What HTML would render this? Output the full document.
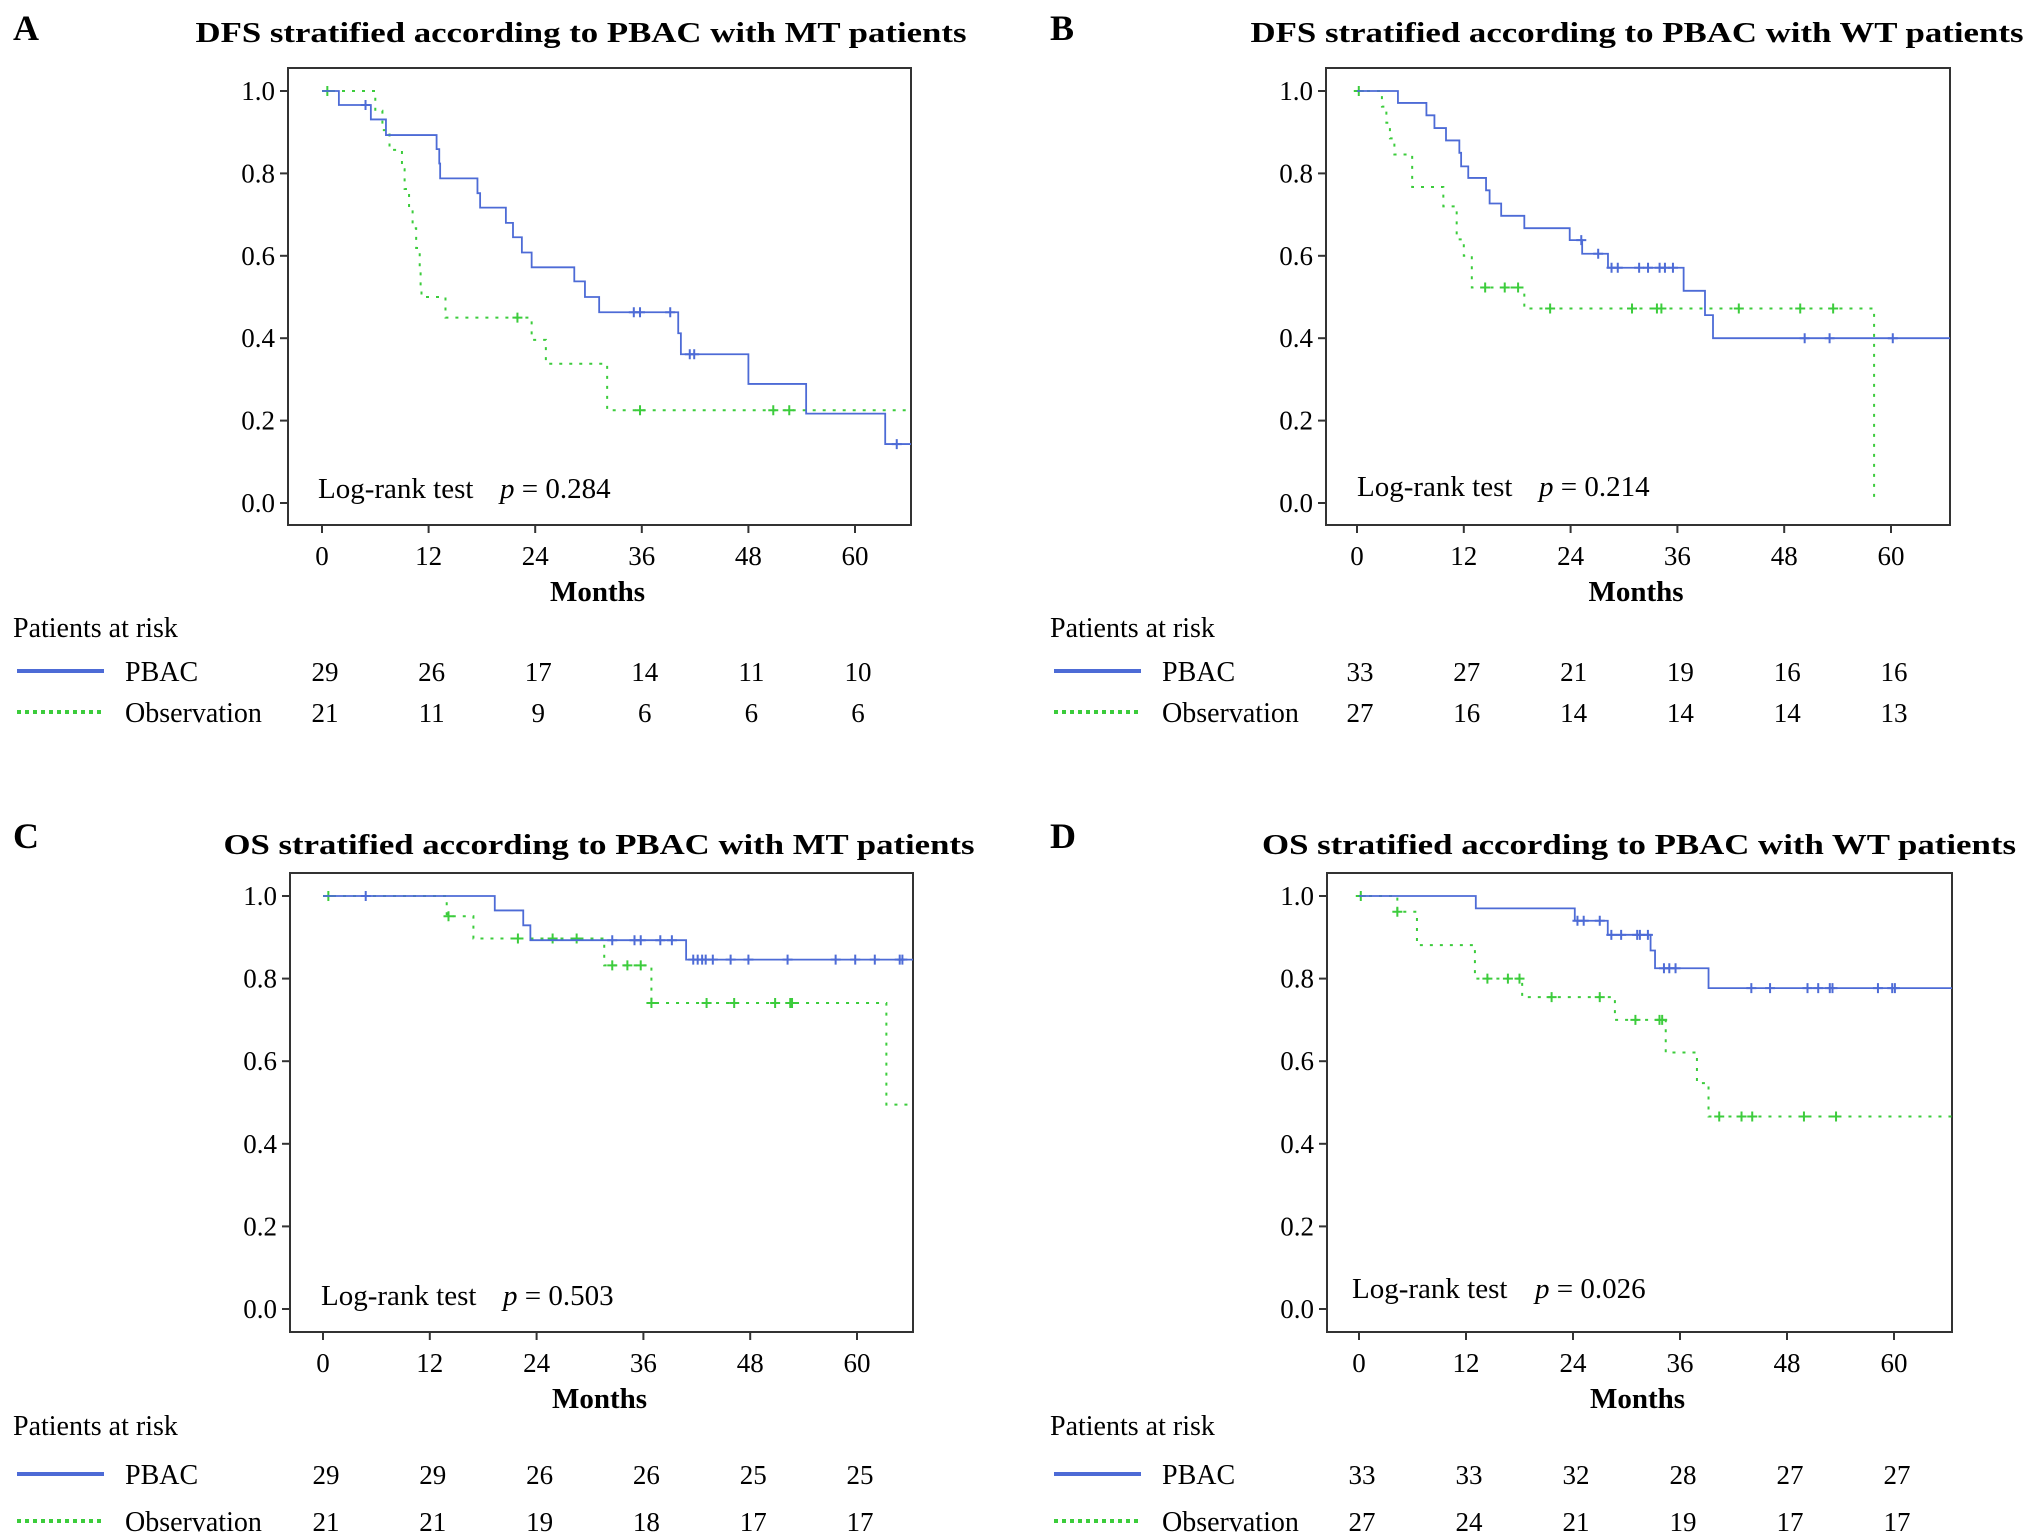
<!DOCTYPE html>
<html><head><meta charset="utf-8"><style>
html,body{margin:0;padding:0;background:#fff;}
svg{display:block;font-family:"Liberation Serif",serif;}
</style></head><body>
<svg id="fig" width="2031" height="1540" viewBox="0 0 2031 1540" xmlns="http://www.w3.org/2000/svg"></svg>
<script>
// ---------- DATA ----------
const xTicks = [0, 12, 24, 36, 48, 60];
const yTicks = [0.0, 0.2, 0.4, 0.6, 0.8, 1.0];
const seriesNames = ["PBAC", "Observation"];

// Panel A
const aTitle = "DFS stratified according to PBAC with MT patients";
const aP = "0.284";
const aPbacT = [1.9,5.5,7.2,12.9,13.2,13.3,17.5,17.8,20.7,21.5,22.5,23.6,28.4,29.6,31.2,40.1,40.4,48.0,54.5,63.4];
const aPbacS = [0.966,0.931,0.893,0.859,0.824,0.788,0.752,0.717,0.68,0.645,0.608,0.572,0.538,0.5,0.463,0.412,0.361,0.289,0.217,0.143];
const aPbacCT = [4.9,35.1,35.8,39.2,41.4,41.9,64.7];
const aObsT = [6.0,6.8,7.6,9.0,9.3,9.8,10.2,10.6,11.0,11.1,11.2,13.9,23.6,25.2,32.1];
const aObsS = [0.952,0.905,0.857,0.810,0.762,0.714,0.667,0.619,0.571,0.524,0.5,0.45,0.396,0.338,0.225];
const aObsCT = [0.6,22.0,35.8,50.8,52.6];
const aRiskPbac = [29,26,17,14,11,10];
const aRiskObs = [21,11,9,6,6,6];

// Panel B
const bTitle = "DFS stratified according to PBAC with WT patients";
const bP = "0.214";
const bPbacT = [4.6,7.8,8.7,10.0,11.5,11.7,12.5,14.5,14.9,16.2,18.8,23.9,25.3,28.2,36.7,39.1,40.0];
const bPbacS = [0.971,0.941,0.910,0.880,0.85,0.817,0.789,0.759,0.727,0.697,0.667,0.638,0.605,0.571,0.515,0.456,0.40];
const bPbacCT = [25.2,27.1,28.6,29.3,31.7,32.7,34.0,34.6,35.5,50.3,53.1,60.2];
const bObsT = [2.8,3.3,3.7,4.2,6.2,9.7,11.2,12.0,12.9,18.8,58.1];
const bObsS = [0.962,0.923,0.885,0.846,0.767,0.72,0.64,0.60,0.523,0.472,0.0];
const bObsCT = [0.2,14.4,16.6,18.1,21.7,30.9,33.7,34.2,42.9,49.8,53.5];
const bRiskPbac = [33,27,21,19,16,16];
const bRiskObs = [27,16,14,14,14,13];

// Panel C
const cTitle = "OS stratified according to PBAC with MT patients";
const cP = "0.503";
const cPbacT = [19.3,22.5,23.3,40.8];
const cPbacS = [0.965,0.929,0.893,0.846];
const cPbacCT = [4.8,32.5,35.0,35.7,37.9,39.2,41.6,42.1,42.6,43.0,43.8,45.8,47.8,52.2,57.6,59.8,62.0,64.8,65.1];
const cObsT = [13.9,16.9,31.6,36.9,63.3];
const cObsS = [0.951,0.897,0.832,0.741,0.495];
const cObsCT = [0.6,14.1,21.9,25.8,28.5,32.5,34.2,35.7,36.9,43.1,46.2,50.8,52.5,52.7];
const cRiskPbac = [29,29,26,26,25,25];
const cRiskObs = [21,21,19,18,17,17];

// Panel D
const dTitle = "OS stratified according to PBAC with WT patients";
const dP = "0.026";
const dPbacT = [13.1,24.2,27.9,32.7,33.2,39.2];
const dPbacS = [0.970,0.940,0.906,0.868,0.825,0.777];
const dPbacCT = [24.5,25.2,27.0,28.3,29.4,31.2,31.5,32.4,34.2,34.8,35.5,44.0,46.1,50.3,51.5,52.8,53.1,58.2,59.8,60.1];
const dObsT = [4.3,6.5,13.0,18.3,28.7,34.4,37.9,39.2];
const dObsS = [0.962,0.881,0.80,0.755,0.70,0.621,0.547,0.466];
const dObsCT = [0.2,4.3,14.4,16.7,18.0,21.6,27.0,31.0,33.7,34.0,40.4,42.9,44.1,49.9,53.5];
const dRiskPbac = [33,33,32,28,27,27];
const dRiskObs = [27,24,21,19,17,17];

// ---------- DRAWING ----------
const NS = "http://www.w3.org/2000/svg";
const svg = document.getElementById("fig");
const BLUE = "#4d6bd6", GREEN = "#3ccc3c";
function mk(tag, attrs, parent) {
  const e = document.createElementNS(NS, tag);
  for (const k in attrs) e.setAttribute(k, attrs[k]);
  (parent || svg).appendChild(e);
  return e;
}
function txt(s, attrs, parent) { const e = mk("text", attrs, parent); e.textContent = s; return e; }

function survAt(t, T, S) { let s = 1; for (let i = 0; i < T.length; i++) if (T[i] <= t) s = S[i]; return s; }

function panel(cfg) {
  const g = mk("g", {});
  
  
  const xs = m => cfg.x0 + (m / 60) * (cfg.x60 - cfg.x0);
  const ys = v => cfg.y0 + v * (cfg.y1 - cfg.y0);
  const tEnd = (cfg.bx2 - cfg.x0) / (cfg.x60 - cfg.x0) * 60;

  const L = txt(cfg.letter, {x: cfg.lx, y: cfg.ly, "font-size": 36, "font-weight": "bold"}, g);
  
  
  const T = txt(cfg.title, {x: cfg.tx, y: cfg.ty, "font-size": 29, "font-weight": "bold", "text-anchor": "middle", textLength: cfg.tw, lengthAdjust: "spacingAndGlyphs"}, g);
  
  

  const box = mk("rect", {x: cfg.bx1, y: cfg.by1, width: cfg.bx2 - cfg.bx1, height: cfg.by2 - cfg.by1, fill: "none", stroke: "#333", "stroke-width": 2}, g);
  
  

  yTicks.forEach(v => {
    const y = ys(v);
    const tk = mk("line", {x1: cfg.bx1 - 8, x2: cfg.bx1, y1: y, y2: y, stroke: "#333", "stroke-width": 2}, g);
    
    
    const lb = txt(v.toFixed(1), {x: cfg.bx1 - 13, y: y + 9, "font-size": 27, "text-anchor": "end"}, g);
    
    
  });
  xTicks.forEach((m, i) => {
    const x = xs(m);
    const tk = mk("line", {x1: x, x2: x, y1: cfg.by2, y2: cfg.by2 + 8, stroke: "#333", "stroke-width": 2}, g);
    
    
    const lb = txt(String(m), {x: x, y: cfg.by2 + 40, "font-size": 27, "text-anchor": "middle"}, g);
    
    
    const r1 = txt(String(cfg.riskP[i]), {x: x + 3, y: cfg.r1y, "font-size": 27, "text-anchor": "middle"}, g);
    
    
    const r2 = txt(String(cfg.riskO[i]), {x: x + 3, y: cfg.r2y, "font-size": 27, "text-anchor": "middle"}, g);
    
    
  });
  const xt = txt("Months", {x: (cfg.bx1 + cfg.bx2) / 2 - 2, y: cfg.by2 + 76, "font-size": 29, "font-weight": "bold", "text-anchor": "middle"}, g);
  
  

  function curve(Tt, Ss, CT, color, dashed, name) {
    let d = "M" + xs(0) + "," + ys(1);
    let s = 1;
    for (let i = 0; i < Tt.length; i++) {
      d += " H" + xs(Tt[i]) + " V" + ys(Ss[i]);
      s = Ss[i];
    }
    const last = Tt[Tt.length - 1];
    if (s > 0) d += " H" + xs(Math.max(tEnd, last));
    const p = mk("path", {d: d, fill: "none", stroke: color, "stroke-width": dashed ? 2 : 1.8, "stroke-dasharray": dashed ? "3,7" : "none"}, g);
    
    
    CT.forEach(t => {
      const cx = xs(t), cy = ys(survAt(t, Tt, Ss));
      const c = mk("path", {d: "M" + (cx - 5) + "," + cy + " H" + (cx + 5) + " M" + cx + "," + (cy - 5) + " V" + (cy + 5), stroke: color, "stroke-width": 2}, g);
      
      
    });
  }
  curve(cfg.oT, cfg.oS, cfg.oCT, GREEN, true, "observation");
  curve(cfg.pT, cfg.pS, cfg.pCT, BLUE, false, "pbac");

  const lr = txt("Log-rank test", {x: cfg.lrx, y: cfg.lry, "font-size": 29}, g);
  
  
  const pv = mk("text", {x: cfg.px, y: cfg.lry, "font-size": 29}, g);
  
  
  const it = mk("tspan", {"font-style": "italic"}, pv); it.textContent = "p";
  const rest = mk("tspan", {}, pv); rest.textContent = " = " + cfg.p;

  const par = txt("Patients at risk", {x: cfg.lx, y: cfg.pary, "font-size": 28}, g);
  
  
  const l1 = mk("line", {x1: cfg.lx + 4, x2: cfg.lx + 91, y1: cfg.r1y - 10, y2: cfg.r1y - 10, stroke: BLUE, "stroke-width": 4}, g);
  
  
  const l2 = mk("line", {x1: cfg.lx + 4, x2: cfg.lx + 91, y1: cfg.r2y - 10, y2: cfg.r2y - 10, stroke: GREEN, "stroke-width": 4, "stroke-dasharray": "4,4"}, g);
  
  
  const n1 = txt(seriesNames[0], {x: cfg.lx + 112, y: cfg.r1y, "font-size": 28}, g);
  
  
  const n2 = txt(seriesNames[1], {x: cfg.lx + 112, y: cfg.r2y, "font-size": 28}, g);
  
  
}

panel({id: "a", letter: "A", lx: 13, ly: 40, title: aTitle, tx: 581, ty: 42, tw: 771,
  bx1: 288, bx2: 911, by1: 68, by2: 525, x0: 322, x60: 855, y1: 91, y0: 503,
  pT: aPbacT, pS: aPbacS, pCT: aPbacCT, oT: aObsT, oS: aObsS, oCT: aObsCT,
  riskP: aRiskPbac, riskO: aRiskObs, r1y: 681, r2y: 722, pary: 637,
  lrx: 318, lry: 498, px: 500, p: aP});
panel({id: "b", letter: "B", lx: 1050, ly: 40, title: bTitle, tx: 1637, ty: 42, tw: 773,
  bx1: 1326, bx2: 1950, by1: 68, by2: 525, x0: 1357, x60: 1891, y1: 91, y0: 503,
  pT: bPbacT, pS: bPbacS, pCT: bPbacCT, oT: bObsT, oS: bObsS, oCT: bObsCT,
  riskP: bRiskPbac, riskO: bRiskObs, r1y: 681, r2y: 722, pary: 637,
  lrx: 1357, lry: 496, px: 1539, p: bP});
panel({id: "c", letter: "C", lx: 13, ly: 848, title: cTitle, tx: 599, ty: 854, tw: 751,
  bx1: 290, bx2: 913, by1: 873, by2: 1332, x0: 323, x60: 857, y1: 896, y0: 1309,
  pT: cPbacT, pS: cPbacS, pCT: cPbacCT, oT: cObsT, oS: cObsS, oCT: cObsCT,
  riskP: cRiskPbac, riskO: cRiskObs, r1y: 1484, r2y: 1531, pary: 1435,
  lrx: 321, lry: 1305, px: 503, p: cP});
panel({id: "d", letter: "D", lx: 1050, ly: 848, title: dTitle, tx: 1639, ty: 854, tw: 754,
  bx1: 1327, bx2: 1952, by1: 873, by2: 1332, x0: 1359, x60: 1894, y1: 896, y0: 1309,
  pT: dPbacT, pS: dPbacS, pCT: dPbacCT, oT: dObsT, oS: dObsS, oCT: dObsCT,
  riskP: dRiskPbac, riskO: dRiskObs, r1y: 1484, r2y: 1531, pary: 1435,
  lrx: 1352, lry: 1298, px: 1535, p: dP});
</script>
</body></html>
